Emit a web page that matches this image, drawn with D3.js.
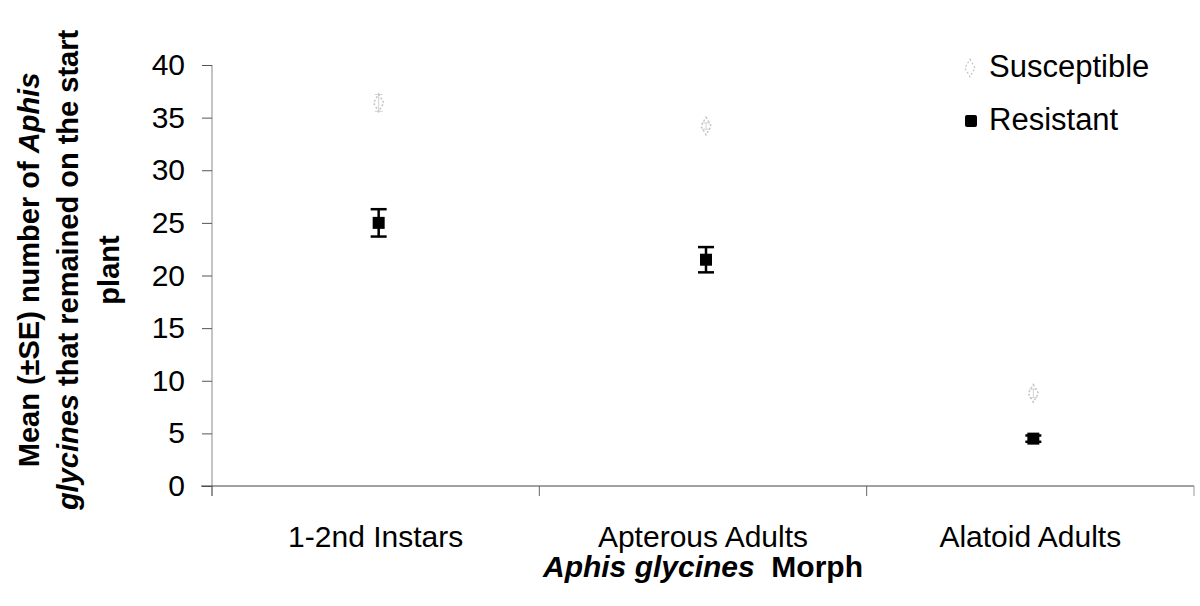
<!DOCTYPE html>
<html>
<head>
<meta charset="utf-8">
<script src="https://cdn.jsdelivr.net/npm/d3@7"></script>
<style>
  html, body { margin: 0; padding: 0; background: #fff; }
  svg { display: block; font-family: Arial, "Liberation Sans", sans-serif; }
</style>
</head>
<body>
<svg id="chart" width="1200" height="606"></svg>
<script>
const categories = ['1-2nd Instars', 'Apterous Adults', 'Alatoid Adults'];
const susceptible = [36.4, 34.2, 8.8];
const susceptibleSE = [0.8, 0.3, 0.4];
const resistant = [25.0, 21.5, 4.5];
const resistantSE = [1.3, 1.2, 0.3];
const yTicks = [0, 5, 10, 15, 20, 25, 30, 35, 40];

const svg = d3.select('#chart');
const plotL = 212, plotR = 1194, plotT = 65, plotB = 486;

const x = d3.scaleBand().domain(categories).range([plotL, plotR]);
const y = d3.scaleLinear().domain([0, 40]).range([plotB, plotT]);
const cx = d => x(d) + x.bandwidth() / 2 + 3;

// axes
const yAxis = svg.append('g')
  .attr('transform', `translate(${plotL},0)`)
  .call(d3.axisLeft(y).tickValues(yTicks).tickSize(10).tickPadding(17));
yAxis.select('.domain').attr('stroke', '#888').attr('d', `M0,${plotT}V${plotB + 10}`);
yAxis.selectAll('.tick line').attr('stroke', '#555');
yAxis.selectAll('.tick text').attr('font-size', 30).attr('fill', '#000');

const xAxis = svg.append('g')
  .attr('transform', `translate(0,${plotB})`)
  .call(d3.axisBottom(x).tickValues([]).tickSizeOuter(0));
xAxis.select('.domain').attr('stroke', '#444').attr('d', `M${plotL - 11},0H${plotR}`);
xAxis.selectAll('.bd').data(d3.range(categories.length + 1)).join('line')
  .attr('x1', i => plotL + i * x.bandwidth()).attr('x2', i => plotL + i * x.bandwidth())
  .attr('y1', 0).attr('y2', 10).attr('stroke', i => i === categories.length ? '#999' : '#666');

svg.append('g').selectAll('text').data(categories).join('text')
  .attr('x', d => x(d) + x.bandwidth() / 2)
  .attr('y', 547)
  .attr('text-anchor', 'middle')
  .attr('font-size', 30)
  .text(d => d);

// axis titles
const xt = svg.append('text')
  .attr('x', 703).attr('y', 577)
  .attr('text-anchor', 'middle')
  .attr('font-size', 30).attr('font-weight', 'bold');
xt.append('tspan').attr('font-style', 'italic').text('Aphis glycines');
xt.append('tspan').text('\u00a0 Morph');

const yt = svg.append('text')
  .attr('transform', 'translate(0,270) rotate(-90)')
  .attr('text-anchor', 'middle')
  .attr('font-size', 29).attr('font-weight', 'bold');
const l1 = yt.append('tspan').attr('x', 0).attr('y', 39);
l1.append('tspan').text('Mean (\u00b1SE) number of ');
l1.append('tspan').attr('font-style', 'italic').text('Aphis');
const l2 = yt.append('tspan').attr('x', 0).attr('y', 78);
l2.append('tspan').attr('font-style', 'italic').text('glycines');
l2.append('tspan').text(' that remained on the start');
yt.append('tspan').attr('x', 0).attr('y', 119).text('plant');

// error bars
function errorBars(vals, se, color, w, cap) {
  const g = svg.append('g').attr('stroke', color).attr('stroke-width', w);
  g.selectAll('line.v').data(categories).join('line')
    .attr('x1', d => cx(d)).attr('x2', d => cx(d))
    .attr('y1', (d, i) => y(vals[i] + se[i])).attr('y2', (d, i) => y(vals[i] - se[i]));
  [1, -1].forEach(s => {
    g.selectAll('line.c' + (s > 0 ? 'u' : 'd')).data(categories).join('line')
      .attr('x1', d => cx(d) - cap).attr('x2', d => cx(d) + cap)
      .attr('y1', (d, i) => y(vals[i] + s * se[i])).attr('y2', (d, i) => y(vals[i] + s * se[i]));
  });
}

errorBars(susceptible, susceptibleSE, '#d4d4d4', 1, 4);
const star = d3.symbol().type(d3.symbolDiamond).size(90);
svg.append('g').selectAll('path').data(categories).join('path')
  .attr('d', star)
  .attr('transform', (d, i) => `translate(${cx(d)},${y(susceptible[i])})`)
  .attr('fill', 'none').attr('stroke', '#c4c4c4').attr('stroke-width', 1.5)
  .attr('stroke-dasharray', '2,2');

errorBars(resistant, resistantSE, '#000', 2.5, 8);
svg.append('g').selectAll('rect').data(categories).join('rect')
  .attr('x', d => cx(d) - 6).attr('y', (d, i) => y(resistant[i]) - 6)
  .attr('width', 12).attr('height', 12).attr('fill', '#000');

// legend
const legend = [
  { label: 'Susceptible', y: 66 },
  { label: 'Resistant', y: 119 }
];
const lg = svg.append('g');
lg.append('path').attr('d', star).attr('transform', `translate(970,${legend[0].y + 2})`)
  .attr('fill', 'none').attr('stroke', '#c4c4c4').attr('stroke-width', 1.2).attr('stroke-dasharray', '2,2');
lg.append('rect').attr('x', 965).attr('y', legend[1].y - 4).attr('width', 12).attr('height', 12)
  .attr('rx', 2).attr('fill', '#000');
lg.selectAll('text').data(legend).join('text')
  .attr('x', 989).attr('y', d => d.y + 11)
  .attr('font-size', 31)
  .text(d => d.label);
</script>
</body>
</html>
